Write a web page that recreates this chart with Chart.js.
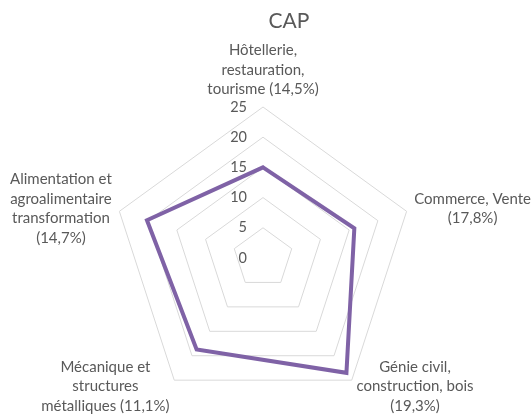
<!DOCTYPE html>
<html>
<head>
<meta charset="utf-8">
<script src="https://cdn.jsdelivr.net/npm/chart.js@4.4.1/dist/chart.umd.min.js"></script>
<style>
  html, body { margin: 0; padding: 0; background: #fff; }
  #wrap { width: 532px; height: 416px; position: relative; }
</style>
</head>
<body>
<div id="wrap"><canvas id="chart"></canvas></div>
<script>
// data
var chartTitle = 'CAP';
var categories = [
  ['Hôtellerie,', 'restauration,', 'tourisme (14,5%)'],
  ['Commerce, Vente', '(17,8%)'],
  ['Génie civil,', 'construction, bois', '(19,3%)'],
  ['Mécanique et', 'structures', 'métalliques (11,1%)'],
  ['Alimentation et', 'agroalimentaire', 'transformation', '(14,7%)']
];
var values = [15, 15.9, 23.5, 18.7, 20.2];
var tickMin = 0;
var tickMax = 25;
var tickStep = 5;

var textColor = '#595959';
var lineColor = '#7f62a6';
var gridColor = '#d9d9d9';

// Excel-like text: title, tick labels left of the axis, labels centred in blocks
var excelText = {
  id: 'excelText',
  afterDraw: function(chart) {
    var scale = chart.scales.r;
    var ctx = chart.ctx;
    ctx.save();
    ctx.fillStyle = textColor;
    ctx.textBaseline = 'middle';

    ctx.font = '21px Lato';
    ctx.textAlign = 'center';
    ctx.fillText(chartTitle, chart.width / 2 + 23, 21);

    ctx.font = '14.5px Lato';
    ctx.textAlign = 'right';
    scale.ticks.forEach(function(t) {
      var d = scale.getDistanceFromCenterForValue(t.value);
      ctx.fillText(t.label, scale.xCenter - 16, scale.yCenter - d);
    });

    ctx.font = '15px Lato';
    ctx.textAlign = 'center';
    var lineH = 19.5;
    chart.data.labels.forEach(function(lines, i) {
      var p = scale.getPointPosition(i, scale.drawingArea + 8);
      var dx = p.x - scale.xCenter;
      var w = Math.max.apply(null, lines.map(function(l) { return ctx.measureText(l).width; }));
      var h = lines.length * lineH;
      var cx = Math.abs(dx) < 1 ? p.x : (dx > 0 ? p.x + w / 2 : p.x - w / 2);
      var top = (Math.abs(dx) < 1 && p.y < scale.yCenter) ? p.y - h : p.y - h / 2;
      lines.forEach(function(l, j) {
        ctx.fillText(l, cx, top + lineH * (j + 0.5));
      });
    });
    ctx.restore();
  }
};

new Chart(document.getElementById('chart'), {
  type: 'radar',
  data: {
    labels: categories,
    datasets: [{
      data: values,
      borderColor: lineColor,
      backgroundColor: 'rgba(0,0,0,0)',
      borderWidth: 4,
      pointRadius: 0,
      fill: false,
      tension: 0
    }]
  },
  options: {
    responsive: true,
    maintainAspectRatio: false,
    animation: false,
    layout: { padding: { left: 112, right: 118, top: 107, bottom: 7 } },
    plugins: {
      legend: { display: false },
      tooltip: { enabled: false },
      title: { display: false }
    },
    scales: {
      r: {
        min: tickMin,
        max: tickMax,
        startAngle: 0,
        ticks: { stepSize: tickStep, display: false },
        grid: { color: gridColor, lineWidth: 1 },
        angleLines: { display: false },
        pointLabels: { display: false }
      }
    }
  },
  plugins: [excelText]
});
</script>
</body>
</html>
